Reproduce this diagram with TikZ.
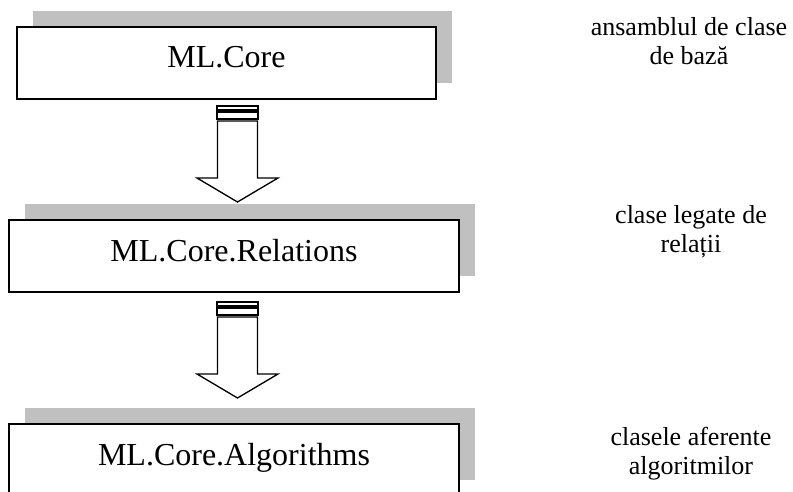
\documentclass[tikz,border=0pt]{standalone}
\usepackage{fontspec}
\setmainfont{Liberation Serif}
\usetikzlibrary{calc}
\definecolor{shadegray}{RGB}{192,192,192}

\tikzset{
  layerbox/.style={draw=black, line width=1.5pt, fill=white, rectangle,
    inner sep=0pt, outer sep=0pt, minimum height=54pt,
    font=\fontsize{24}{28}\selectfont, text height=7.5pt, text depth=0pt},
  note/.style={align=center, inner sep=0pt, anchor=base,
    font=\fontsize{19.5}{21.75}\selectfont},
  stripe/.style={draw=black, line width=1pt, fill=white},
  pics/blockarrow/.style={code={
    \draw[stripe] (-20.5,0) rectangle (20.5,4);
    \draw[stripe] (-20.5,6) rectangle (20.5,13);
    \draw[stripe, line join=miter] (-20,15) -- (20,15) -- (20,72) -- (40.5,72)
      -- (0,96) -- (-40.5,72) -- (-20,72) -- cycle;
  }}
}

\begin{document}
\begin{tikzpicture}[x=0.75pt, y=-0.75pt]
  \clip (0,0) rectangle (793,492);
  \fill[white] (0,0) rectangle (793,492);

  % positions of the three layers of the library
  \path (226.5,63) coordinate (pcore) (234,256) coordinate (prel) (234,460) coordinate (palg);

  % flat grey shadows, shifted up and to the right
  \fill[shadegray] ($(pcore)+(-209.5+16,-36-16)$) rectangle ($(pcore)+(209.5+16,36-16)$);
  \fill[shadegray] ($(prel)+(-225+16,-36-16)$) rectangle ($(prel)+(225+16,36-16)$);
  \fill[shadegray] ($(palg)+(-225+16,-36-16)$) rectangle ($(palg)+(225+16,36-16)$);

  % the layer boxes
  \node[layerbox, minimum width=314.25pt] (core) at (pcore) {ML.Core};
  \node[layerbox, minimum width=337.5pt] (rel) at (prel) {ML.Core.Relations};
  \node[layerbox, minimum width=337.5pt] (alg) at (palg) {ML.Core.Algorithms};

  % striped block arrows between layers
  \coordinate (a1) at ($(core.south)+(11,7)$);
  \coordinate (a2) at ($(rel.south)+(3.5,10)$);
  \pic at (a1) {blockarrow};
  \pic at (a2) {blockarrow};

  % descriptions (anchored on the baseline of the last line)
  \node[note] (n1) at (689,65) {ansamblul de clase\\de bază};
  \node[note] (n2) at (691,252) {clase legate de\\relații};
  \node[note] (n3) at (691,474) {clasele aferente\\algoritmilor};
\end{tikzpicture}
\end{document}
